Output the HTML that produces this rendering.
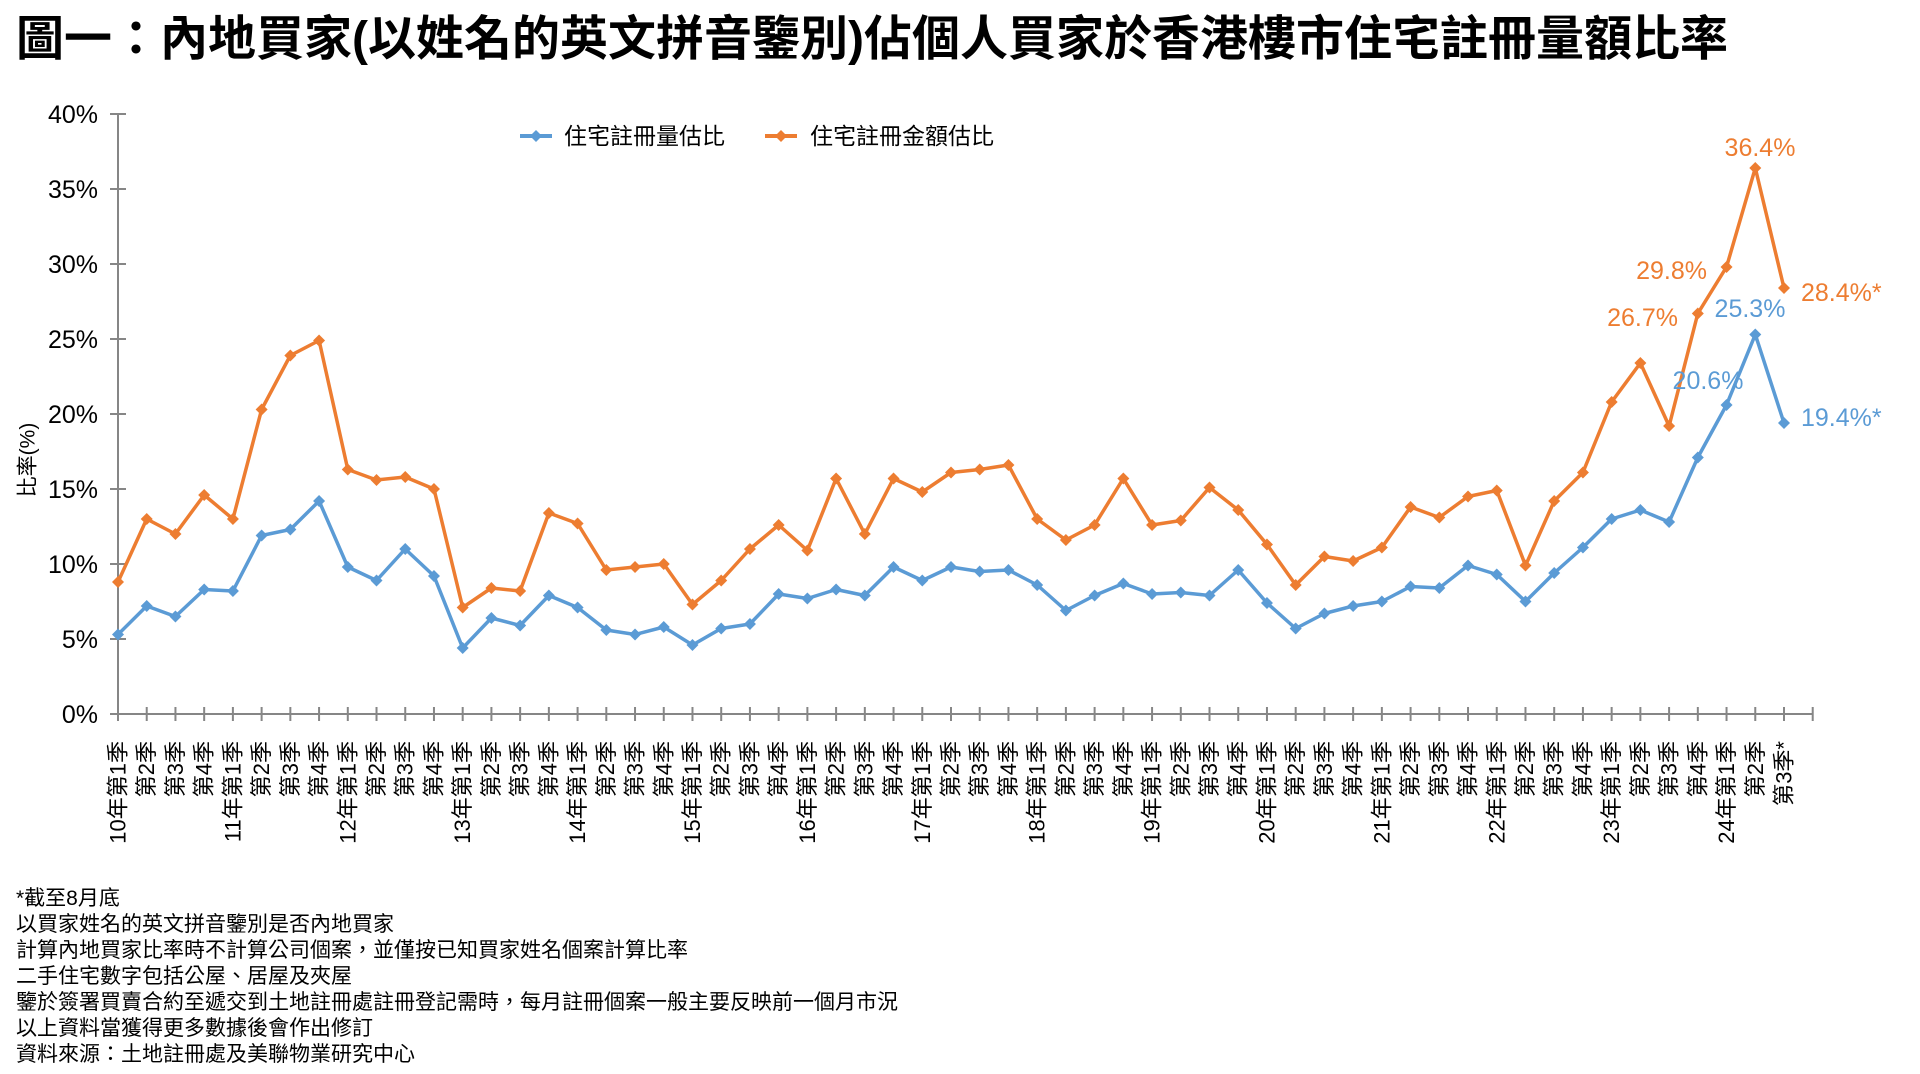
<!DOCTYPE html>
<html><head><meta charset="utf-8"><style>
html,body{margin:0;padding:0;background:#fff;}
svg{display:block;font-family:"Liberation Sans","Noto Sans CJK TC",sans-serif;}
</style></head><body>
<svg id="s" width="1920" height="1074" viewBox="0 0 1920 1074" xmlns="http://www.w3.org/2000/svg">
<text x="16" y="55" font-size="48" font-weight="bold" fill="#000" textLength="1712" lengthAdjust="spacingAndGlyphs">圖一：內地買家(以姓名的英文拼音鑒別)佔個人買家於香港樓市住宅註冊量額比率</text>
<g font-size="25" fill="#000" text-anchor="end">
<text x="98" y="123">40%</text><text x="98" y="198">35%</text><text x="98" y="273">30%</text><text x="98" y="348">25%</text><text x="98" y="423">20%</text><text x="98" y="498">15%</text><text x="98" y="573">10%</text><text x="98" y="648">5%</text><text x="98" y="723">0%</text>
</g>
<text transform="translate(28,460) rotate(-90)" font-size="21" text-anchor="middle" dominant-baseline="central">比率(%)</text>
<g stroke="#868686" stroke-width="2" id="axes">
<line x1="118" y1="114" x2="118" y2="714"/>
<line x1="110" y1="714" x2="1812" y2="714"/>
</g>
<g font-size="22" text-anchor="end" dominant-baseline="central" id="xl">
<text transform="translate(118,741) rotate(-90)">10年第1季</text>
<text transform="translate(146.7,741) rotate(-90)">第2季</text>
<text transform="translate(175.4,741) rotate(-90)">第3季</text>
<text transform="translate(204.2,741) rotate(-90)">第4季</text>
<text transform="translate(232.9,741) rotate(-90)">11年第1季</text>
<text transform="translate(261.6,741) rotate(-90)">第2季</text>
<text transform="translate(290.3,741) rotate(-90)">第3季</text>
<text transform="translate(319.1,741) rotate(-90)">第4季</text>
<text transform="translate(347.8,741) rotate(-90)">12年第1季</text>
<text transform="translate(376.5,741) rotate(-90)">第2季</text>
<text transform="translate(405.2,741) rotate(-90)">第3季</text>
<text transform="translate(434.0,741) rotate(-90)">第4季</text>
<text transform="translate(462.7,741) rotate(-90)">13年第1季</text>
<text transform="translate(491.4,741) rotate(-90)">第2季</text>
<text transform="translate(520.1,741) rotate(-90)">第3季</text>
<text transform="translate(548.9,741) rotate(-90)">第4季</text>
<text transform="translate(577.6,741) rotate(-90)">14年第1季</text>
<text transform="translate(606.3,741) rotate(-90)">第2季</text>
<text transform="translate(635.0,741) rotate(-90)">第3季</text>
<text transform="translate(663.8,741) rotate(-90)">第4季</text>
<text transform="translate(692.5,741) rotate(-90)">15年第1季</text>
<text transform="translate(721.2,741) rotate(-90)">第2季</text>
<text transform="translate(749.9,741) rotate(-90)">第3季</text>
<text transform="translate(778.7,741) rotate(-90)">第4季</text>
<text transform="translate(807.4,741) rotate(-90)">16年第1季</text>
<text transform="translate(836.1,741) rotate(-90)">第2季</text>
<text transform="translate(864.8,741) rotate(-90)">第3季</text>
<text transform="translate(893.5,741) rotate(-90)">第4季</text>
<text transform="translate(922.3,741) rotate(-90)">17年第1季</text>
<text transform="translate(951.0,741) rotate(-90)">第2季</text>
<text transform="translate(979.7,741) rotate(-90)">第3季</text>
<text transform="translate(1008.4,741) rotate(-90)">第4季</text>
<text transform="translate(1037.2,741) rotate(-90)">18年第1季</text>
<text transform="translate(1065.9,741) rotate(-90)">第2季</text>
<text transform="translate(1094.6,741) rotate(-90)">第3季</text>
<text transform="translate(1123.3,741) rotate(-90)">第4季</text>
<text transform="translate(1152.1,741) rotate(-90)">19年第1季</text>
<text transform="translate(1180.8,741) rotate(-90)">第2季</text>
<text transform="translate(1209.5,741) rotate(-90)">第3季</text>
<text transform="translate(1238.2,741) rotate(-90)">第4季</text>
<text transform="translate(1267.0,741) rotate(-90)">20年第1季</text>
<text transform="translate(1295.7,741) rotate(-90)">第2季</text>
<text transform="translate(1324.4,741) rotate(-90)">第3季</text>
<text transform="translate(1353.1,741) rotate(-90)">第4季</text>
<text transform="translate(1381.9,741) rotate(-90)">21年第1季</text>
<text transform="translate(1410.6,741) rotate(-90)">第2季</text>
<text transform="translate(1439.3,741) rotate(-90)">第3季</text>
<text transform="translate(1468.0,741) rotate(-90)">第4季</text>
<text transform="translate(1496.8,741) rotate(-90)">22年第1季</text>
<text transform="translate(1525.5,741) rotate(-90)">第2季</text>
<text transform="translate(1554.2,741) rotate(-90)">第3季</text>
<text transform="translate(1582.9,741) rotate(-90)">第4季</text>
<text transform="translate(1611.6,741) rotate(-90)">23年第1季</text>
<text transform="translate(1640.4,741) rotate(-90)">第2季</text>
<text transform="translate(1669.1,741) rotate(-90)">第3季</text>
<text transform="translate(1697.8,741) rotate(-90)">第4季</text>
<text transform="translate(1726.5,741) rotate(-90)">24年第1季</text>
<text transform="translate(1755.3,741) rotate(-90)">第2季</text>
<text transform="translate(1784.0,741) rotate(-90)">第3季*</text>
</g>
<g id="series"></g>
<g font-size="23">
<line x1="520" y1="136" x2="552" y2="136" stroke="#5B9BD5" stroke-width="4"/><path d="M536 130L542 136L536 142L530 136Z" fill="#5B9BD5"/>
<text x="564" y="144">住宅註冊量估比</text>
<line x1="765" y1="136" x2="797" y2="136" stroke="#ED7D31" stroke-width="4"/><path d="M781 130L787 136L781 142L775 136Z" fill="#ED7D31"/>
<text x="810" y="144">住宅註冊金額估比</text>
</g>
<g font-size="25">
<text x="1760" y="156" text-anchor="middle" fill="#ED7D31">36.4%</text>
<text x="1707" y="279" text-anchor="end" fill="#ED7D31">29.8%</text>
<text x="1678" y="326" text-anchor="end" fill="#ED7D31">26.7%</text>
<text x="1801" y="301" fill="#ED7D31">28.4%*</text>
<text x="1750" y="317" text-anchor="middle" fill="#5B9BD5">25.3%</text>
<text x="1708" y="389" text-anchor="middle" fill="#5B9BD5">20.6%</text>
<text x="1801" y="426" fill="#5B9BD5">19.4%*</text>
</g>
<g font-size="21" fill="#000">
<text x="16" y="905">*截至8月底</text>
<text x="16" y="931">以買家姓名的英文拼音鑒別是否內地買家</text>
<text x="16" y="957">計算內地買家比率時不計算公司個案，並僅按已知買家姓名個案計算比率</text>
<text x="16" y="983">二手住宅數字包括公屋、居屋及夾屋</text>
<text x="16" y="1009">鑒於簽署買賣合約至遞交到土地註冊處註冊登記需時，每月註冊個案一般主要反映前一個月市況</text>
<text x="16" y="1035">以上資料當獲得更多數據後會作出修訂</text>
<text x="16" y="1061">資料來源：土地註冊處及美聯物業研究中心</text>
</g>
</svg>
<script>
var B=[5.3,7.2,6.5,8.3,8.2,11.9,12.3,14.2,9.8,8.9,11.0,9.2,4.4,6.4,5.9,7.9,7.1,5.6,5.3,5.8,4.6,5.7,6.0,8.0,7.7,8.3,7.9,9.8,8.9,9.8,9.5,9.6,8.6,6.9,7.9,8.7,8.0,8.1,7.9,9.6,7.4,5.7,6.7,7.2,7.5,8.5,8.4,9.9,9.3,7.5,9.4,11.1,13.0,13.6,12.8,17.1,20.6,25.3,19.4];
var O=[8.8,13.0,12.0,14.6,13.0,20.3,23.9,24.9,16.3,15.6,15.8,15.0,7.1,8.4,8.2,13.4,12.7,9.6,9.8,10.0,7.3,8.9,11.0,12.6,10.9,15.7,12.0,15.7,14.8,16.1,16.3,16.6,13.0,11.6,12.6,15.7,12.6,12.9,15.1,13.6,11.3,8.6,10.5,10.2,11.1,13.8,13.1,14.5,14.9,9.9,14.2,16.1,20.8,23.4,19.2,26.7,29.8,36.4,28.4];
function X(i){return 118+i*28.724;}function Y(v){return 714-v*15;}
var ax=document.getElementById('axes'),h='';
for(var k=0;k<=8;k++){var y=114+k*75;h+='<line x1="110" y1="'+y+'" x2="126" y2="'+y+'"/>';}
for(var i=0;i<=59;i++){var x=X(i);h+='<line x1="'+x+'" y1="707" x2="'+x+'" y2="721"/>';}
ax.innerHTML+=h;
var g=document.getElementById('series'),s='';
[[B,'#5B9BD5'],[O,'#ED7D31']].forEach(function(p){
 var pts=p[0].map(function(v,i){return X(i).toFixed(1)+','+Y(v).toFixed(1);}).join(' ');
 s+='<polyline points="'+pts+'" fill="none" stroke="'+p[1]+'" stroke-width="3.5" stroke-linejoin="round"/>';
 p[0].forEach(function(v,i){var x=X(i),y=Y(v);s+='<path d="M'+x+' '+(y-6)+'L'+(x+6)+' '+y+'L'+x+' '+(y+6)+'L'+(x-6)+' '+y+'Z" fill="'+p[1]+'"/>';});
});
g.innerHTML=s;
</script>
</body></html>
